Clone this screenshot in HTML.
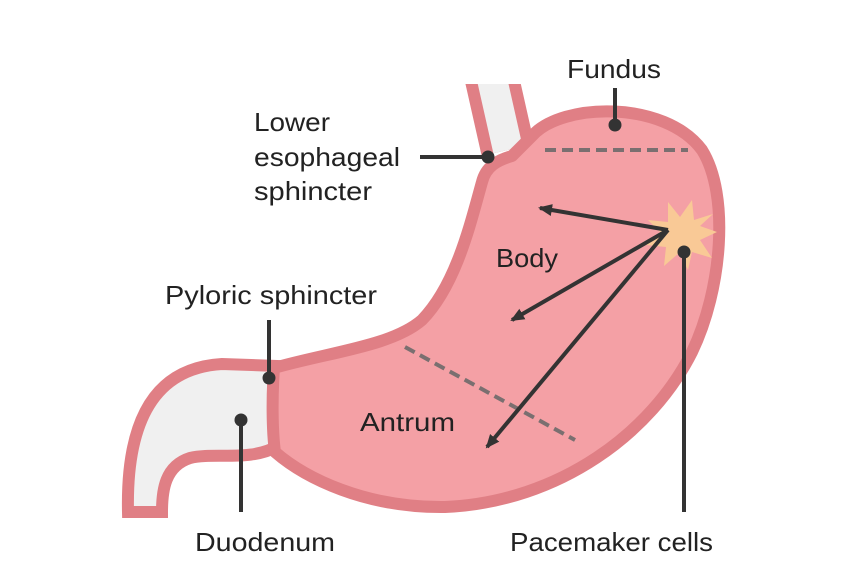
<!DOCTYPE html>
<html><head><meta charset="utf-8"><style>
html,body{margin:0;padding:0;background:#fff;}
svg{display:block}
text{font-family:"Liberation Sans",sans-serif;font-size:26px;fill:#222;}
</style></head><body>
<svg width="866" height="564" viewBox="0 0 866 564" xmlns="http://www.w3.org/2000/svg">
<defs>
<marker id="ah" markerWidth="16" markerHeight="14" refX="12" refY="7" orient="auto" markerUnits="userSpaceOnUse">
<path d="M0,1 L14,7 L0,13 Z" fill="#333"/>
</marker>
<clipPath id="cp"><rect x="0" y="84" width="866" height="480"/></clipPath>
</defs>
<rect width="866" height="564" fill="#fff"/>
<!-- esophagus -->
<g clip-path="url(#cp)">
<path d="M490,70 L508,150" stroke="#e07f85" stroke-width="54" fill="none"/>
<path d="M490,70 L508,150" stroke="#f0f0f0" stroke-width="30" fill="none"/>
</g>
<!-- duodenum -->
<path d="M128,512 C126,420 155,368 222,364 L278,366 L278,446 C250,462 215,452 190,458 C165,466 162,490 162,512 Z" fill="#f0f0f0" stroke="#e07f85" stroke-width="12"/>
<!-- stomach -->
<path d="M532,136 C562,102 665,100 702,150 C730,195 722,290 692,352 C652,432 560,502 445,507 C365,508 305,478 275,452 C272,430 272,395 274,368 C330,352 392,346 422,320 C456,285 470,225 482,182 C486,166 498,160 512,156 Z" fill="#f4a0a5" stroke="#e07f85" stroke-width="12" stroke-linejoin="round"/>
<!-- dashed -->
<line x1="545" y1="150" x2="688" y2="150" stroke="#7a6f70" stroke-width="4" stroke-dasharray="11,6"/>
<line x1="405" y1="347" x2="575" y2="440" stroke="#7a6f70" stroke-width="4" stroke-dasharray="11,6"/>
<!-- starburst -->
<polygon points="717,232 700,240 712,258 692,252 688,270 679,253 664,266 666,247 646,245 662,234 648,220 668,222 668,202 680,217 692,200 694,220 713,214 700,226" fill="#f9c996"/>
<!-- arrows -->
<g stroke="#333" stroke-width="4" fill="none" marker-end="url(#ah)">
<line x1="668" y1="230" x2="540" y2="208"/>
<line x1="668" y1="230" x2="512" y2="320"/>
<line x1="668" y1="230" x2="487" y2="447"/>
</g>
<!-- leader lines -->
<g stroke="#333" stroke-width="4">
<line x1="420" y1="157" x2="488" y2="157"/>
<line x1="615" y1="88" x2="615" y2="125"/>
<line x1="269" y1="320" x2="269" y2="378"/>
<line x1="241" y1="420" x2="241" y2="512"/>
<line x1="684" y1="252" x2="684" y2="512"/>
</g>
<g fill="#333">
<circle cx="488" cy="157" r="6.5"/>
<circle cx="615" cy="125" r="6.5"/>
<circle cx="269" cy="378" r="6.5"/>
<circle cx="241" cy="420" r="6.5"/>
<circle cx="684" cy="252" r="6.5"/>
</g>
<!-- labels -->
<text x="567" y="78" textLength="94" lengthAdjust="spacingAndGlyphs">Fundus</text>
<text x="254" y="131" textLength="76" lengthAdjust="spacingAndGlyphs">Lower</text>
<text x="254" y="166" textLength="146" lengthAdjust="spacingAndGlyphs">esophageal</text>
<text x="254" y="200" textLength="118" lengthAdjust="spacingAndGlyphs">sphincter</text>
<text x="496" y="267" textLength="62" lengthAdjust="spacingAndGlyphs">Body</text>
<text x="165" y="304" textLength="212" lengthAdjust="spacingAndGlyphs">Pyloric sphincter</text>
<text x="360" y="431" textLength="95" lengthAdjust="spacingAndGlyphs">Antrum</text>
<text x="195" y="551" textLength="140" lengthAdjust="spacingAndGlyphs">Duodenum</text>
<text x="510" y="551" textLength="203" lengthAdjust="spacingAndGlyphs">Pacemaker cells</text>
</svg>
</body></html>
